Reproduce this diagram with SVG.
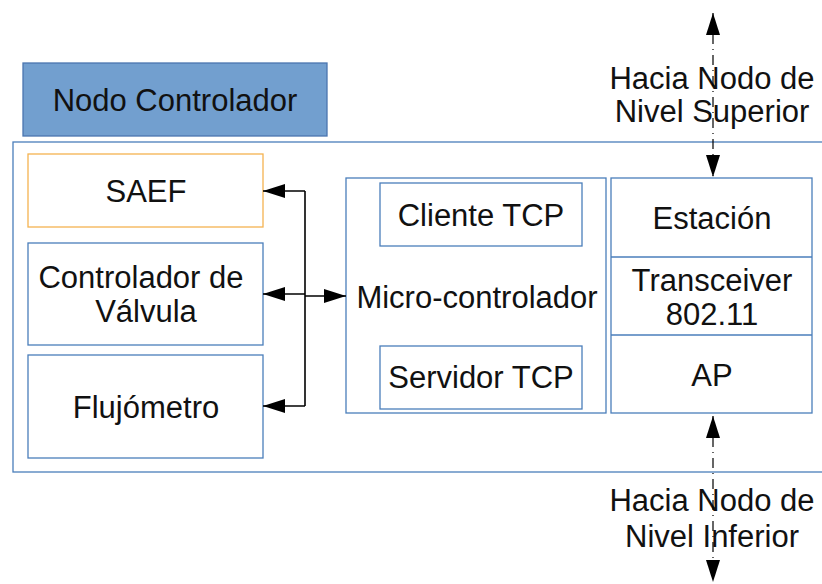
<svg xmlns="http://www.w3.org/2000/svg" width="822" height="584" viewBox="0 0 822 584">
  <style>
    .box { fill: #ffffff; stroke: #4a7ebb; stroke-width: 1.3; }
    .txt { font-family: "Liberation Sans", Arial, sans-serif; font-size: 31px; fill: #111111; text-anchor: middle; }
    .wire { fill: none; stroke: #000000; stroke-width: 1.6; }
    .dashdot { fill: none; stroke: #000000; stroke-width: 1.2; stroke-dasharray: 10 5 1 5; }
  </style>
  <defs>
    <marker id="arrow" viewBox="0 0 22 14" refX="22" refY="7" markerWidth="22" markerHeight="14" markerUnits="userSpaceOnUse" orient="auto">
      <path d="M0,0 L22,7 L0,14 Z" fill="#000000"/>
    </marker>
    <marker id="arrowStart" viewBox="0 0 22 14" refX="0" refY="7" markerWidth="22" markerHeight="14" markerUnits="userSpaceOnUse" orient="auto">
      <path d="M22,0 L0,7 L22,14 Z" fill="#000000"/>
    </marker>
  </defs>

  <!-- title tab -->
  <g id="nodo-controlador">
    <rect x="23" y="63" width="304" height="73" fill="#729fcf" stroke="#4a76b0" stroke-width="1.3"/>
    <text class="txt" x="175" y="111">Nodo Controlador</text>
  </g>

  <!-- enclosing frame -->
  <g id="frame">
    <rect x="13" y="142" width="830" height="330" class="box"/>
  </g>

  <g id="saef">
    <rect x="28" y="154" width="235" height="73" fill="#ffffff" stroke="#f5b350" stroke-width="1.3"/>
    <text class="txt" x="146" y="202">SAEF</text>
  </g>

  <g id="controlador-valvula">
    <rect x="28" y="243" width="235" height="102" class="box"/>
    <text class="txt" x="141" y="288">Controlador de</text>
    <text class="txt" x="146" y="322">Válvula</text>
  </g>

  <g id="flujometro">
    <rect x="28" y="355" width="235" height="103" class="box"/>
    <text class="txt" x="146" y="418">Flujómetro</text>
  </g>

  <g id="microcontrolador">
    <rect x="346" y="178" width="260" height="235" class="box"/>
    <text class="txt" x="477" y="308">Micro-controlador</text>
  </g>

  <g id="cliente-tcp">
    <rect x="380" y="183" width="202" height="63" class="box"/>
    <text class="txt" x="481" y="226">Cliente TCP</text>
  </g>

  <g id="servidor-tcp">
    <rect x="380" y="346" width="202" height="63" class="box"/>
    <text class="txt" x="481" y="388">Servidor TCP</text>
  </g>

  <g id="radio-stack">
    <rect x="611" y="178" width="201" height="235" class="box"/>
    <line x1="611" y1="257" x2="812" y2="257" stroke="#4a7ebb" stroke-width="1.3"/>
    <line x1="611" y1="335" x2="812" y2="335" stroke="#4a7ebb" stroke-width="1.3"/>
    <text class="txt" x="712" y="229">Estación</text>
    <text class="txt" x="712" y="291">Transceiver</text>
    <text class="txt" x="712" y="325">802.11</text>
    <text class="txt" x="712" y="386">AP</text>
  </g>

  <!-- uplink / downlink labels -->
  <g id="label-superior">
    <text class="txt" x="712" y="89">Hacia Nodo de</text>
    <text class="txt" x="712" y="122">Nivel Superior</text>
  </g>
  <g id="label-inferior">
    <text class="txt" x="712" y="511">Hacia Nodo de</text>
    <text class="txt" x="712" y="547">Nivel Inferior</text>
  </g>

  <g id="connectors">
    <!-- peripheral bus -->
    <path class="wire" d="M305,191 L305,406"/>
    <line class="wire" x1="305" y1="191" x2="263" y2="191" marker-end="url(#arrow)"/>
    <line class="wire" x1="305" y1="294" x2="263" y2="294" marker-end="url(#arrow)"/>
    <line class="wire" x1="305" y1="406" x2="263" y2="406" marker-end="url(#arrow)"/>
    <line class="wire" x1="305" y1="296" x2="346" y2="296" stroke="#444444" marker-end="url(#arrow)"/>
    <!-- wireless links -->
    <line class="dashdot" x1="713" y1="13" x2="713" y2="177" marker-start="url(#arrowStart)" marker-end="url(#arrow)"/>
    <line class="dashdot" x1="713" y1="416" x2="713" y2="582" marker-start="url(#arrowStart)" marker-end="url(#arrow)"/>
  </g>
</svg>
